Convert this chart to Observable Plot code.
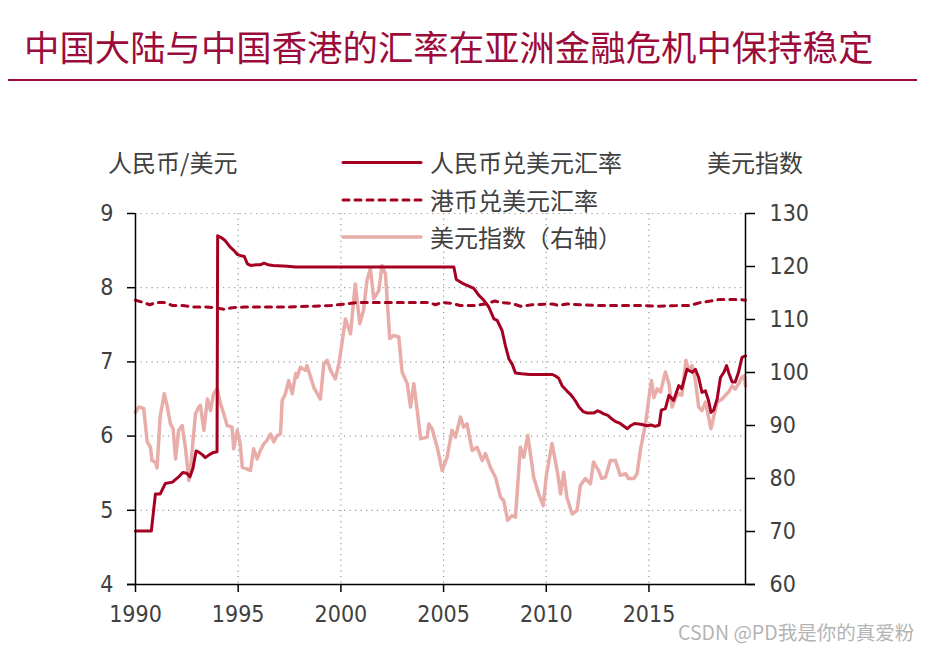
<!DOCTYPE html>
<html>
<head>
<meta charset="utf-8">
<script src="https://cdn.jsdelivr.net/npm/d3@7"></script>
<script src="https://cdn.jsdelivr.net/npm/@observablehq/plot@0.6"></script>
<style>
  body { margin: 0; background: #fff; }
  #wrap { position: relative; width: 930px; height: 650px; font-family: "Noto Sans CJK SC", sans-serif; color: #404040; }
  .abs { position: absolute; white-space: nowrap; line-height: 1; }
  #chart { position: absolute; left: 0; top: 100px; }
</style>
</head>
<body>
<div id="wrap">
  <div class="abs" style="left:24px;top:28px;font-size:35.4px;color:#9c0c3b;">中国大陆与中国香港的汇率在亚洲金融危机中保持稳定</div>
  <div class="abs" style="left:8px;top:79px;width:909px;height:2px;background:#9c0c3b;"></div>
  <div id="chart"></div>
  <div class="abs" style="left:108px;top:150px;font-size:24px;">人民币/美元</div>
  <div class="abs" style="left:707px;top:150px;font-size:24px;">美元指数</div>
  <svg class="abs" style="left:340px;top:150px;" width="86" height="100">
    <line x1="3" x2="81" y1="12.5" y2="12.5" stroke="#a50021" stroke-width="3" stroke-linecap="round"/>
    <line x1="3" x2="81" y1="50" y2="50" stroke="#a50021" stroke-width="3" stroke-linecap="round" stroke-dasharray="6,6"/>
    <line x1="3" x2="81" y1="87" y2="87" stroke="#e8aca9" stroke-width="3.5" stroke-linecap="round"/>
  </svg>
  <div class="abs" style="left:430px;top:150px;font-size:24px;">人民币兑美元汇率</div>
  <div class="abs" style="left:430px;top:188px;font-size:24px;">港币兑美元汇率</div>
  <div class="abs" style="left:430px;top:225px;font-size:24px;">美元指数（右轴）</div>
  <div class="abs" style="left:678px;top:622px;font-size:19.5px;color:#b4b4b4;">CSDN @PD我是你的真爱粉</div>
</div>
<script>
// 人民币兑美元汇率
const cnyYear = [1990.0,1990.77,1990.97,1991.2,1991.45,1991.8,1992.1,1992.3,1992.5,1992.65,1992.8,1992.95,1993.1,1993.25,1993.4,1993.6,1993.8,1993.97,
  1994.0,1994.15,1994.35,1994.6,1994.8,1994.95,1995.15,1995.3,1995.45,1995.6,1995.9,1996.1,1996.25,1996.45,1996.7,1997.4,1997.8,
  2005.5,2005.62,2005.98,2006.47,2006.71,2006.96,2007.2,2007.45,2007.61,2007.85,2008.01,2008.18,2008.34,2008.5,2008.8,2009.2,2009.7,
  2010.3,2010.45,2010.6,2010.77,2011.0,2011.15,2011.3,2011.45,2011.6,2011.8,2012.0,2012.3,2012.5,2012.6,2012.8,2013.0,2013.2,2013.35,
  2013.6,2013.8,2013.95,2014.1,2014.3,2014.6,2014.9,2015.1,2015.3,2015.5,2015.6,2015.8,2015.97,2016.2,2016.45,2016.6,2016.85,2017.1,
  2017.26,2017.42,2017.58,2017.75,2017.9,2018.02,2018.15,2018.32,2018.48,2018.65,2018.78,2018.9,2019.05,2019.2,2019.36,2019.53,2019.7];
const cnyRate = [4.72,4.72,5.22,5.22,5.36,5.38,5.45,5.51,5.50,5.45,5.57,5.80,5.78,5.75,5.71,5.75,5.78,5.79,
  8.70,8.68,8.64,8.55,8.50,8.45,8.43,8.42,8.32,8.30,8.31,8.31,8.33,8.31,8.30,8.29,8.28,
  8.28,8.11,8.05,7.99,7.90,7.83,7.74,7.58,7.56,7.42,7.22,7.04,6.97,6.85,6.84,6.83,6.83,
  6.83,6.81,6.78,6.68,6.61,6.57,6.52,6.46,6.39,6.33,6.31,6.31,6.34,6.33,6.30,6.28,6.23,6.20,
  6.17,6.13,6.10,6.14,6.17,6.16,6.14,6.15,6.13,6.15,6.35,6.37,6.55,6.48,6.68,6.64,6.90,6.86,
  6.90,6.79,6.59,6.61,6.48,6.32,6.35,6.50,6.79,6.86,6.95,6.84,6.73,6.73,6.86,7.06,7.08];

// 港币兑美元汇率
const hkdYear = [1990.0,1990.4,1990.7,1991.0,1991.4,1991.8,1992.3,1992.8,1993.4,1993.9,1994.3,1994.7,1995.3,1996.5,1997.5,1998.5,1999.5,
  2000.2,2000.8,2002.0,2003.5,2004.3,2004.6,2004.9,2005.4,2005.8,2006.5,2007.0,2007.5,2007.8,2008.3,2008.75,2009.3,2010.3,2010.6,
  2011.0,2011.7,2012.5,2013.5,2014.5,2015.5,2016.5,2017.0,2017.5,2018.0,2018.4,2019.0,2019.5,2019.7];
const hkdRate = [7.83,7.80,7.77,7.80,7.80,7.76,7.76,7.74,7.74,7.73,7.71,7.73,7.74,7.74,7.74,7.75,7.76,
  7.78,7.80,7.80,7.80,7.80,7.77,7.80,7.79,7.76,7.76,7.78,7.82,7.80,7.79,7.75,7.77,7.78,7.76,
  7.78,7.77,7.76,7.76,7.76,7.75,7.76,7.76,7.80,7.82,7.84,7.84,7.84,7.83];

// 美元指数（右轴）
const usdYear = [1990.0,1990.16,1990.4,1990.57,1990.73,1990.8,1990.97,1991.05,1991.2,1991.4,1991.55,1991.7,1991.83,1991.95,1992.1,1992.27,
  1992.43,1992.6,1992.7,1992.92,1993.08,1993.16,1993.33,1993.5,1993.65,1993.8,1993.98,1994.14,1994.3,1994.46,1994.7,1994.78,1994.95,
  1995.1,1995.2,1995.43,1995.6,1995.75,1995.92,1996.08,1996.24,1996.4,1996.57,1996.73,1996.9,1997.06,1997.14,1997.3,1997.46,1997.63,
  1997.8,1997.87,1998.03,1998.28,1998.35,1998.68,1998.85,1999.0,1999.17,1999.33,1999.5,1999.73,1999.9,2000.06,2000.22,2000.47,2000.7,
  2000.92,2001.1,2001.27,2001.44,2001.6,2001.85,2002.0,2002.17,2002.38,2002.58,2002.82,2002.98,2003.23,2003.39,2003.55,2003.72,2003.88,
  2004.2,2004.28,2004.44,2004.69,2004.93,2005.17,2005.41,2005.58,2005.82,2005.98,2006.14,2006.39,2006.63,2006.88,2007.04,2007.28,
  2007.53,2007.77,2007.93,2008.12,2008.33,2008.5,2008.74,2008.9,2009.1,2009.39,2009.63,2009.85,2010.0,2010.28,2010.53,2010.7,2010.85,
  2011.0,2011.26,2011.5,2011.66,2011.9,2012.15,2012.3,2012.55,2012.7,2012.88,2013.12,2013.37,2013.6,2013.86,2014.0,2014.26,2014.42,
  2014.58,2014.83,2015.0,2015.12,2015.24,2015.4,2015.56,2015.8,2015.97,2016.13,2016.3,2016.45,2016.6,2016.8,2016.94,2017.1,2017.26,
  2017.42,2017.58,2017.75,2017.9,2018.02,2018.15,2018.32,2018.56,2018.72,2018.88,2019.05,2019.2,2019.37,2019.53,2019.65,2019.7];
const usdIndex = [92.5,93.5,93.2,86.9,85.9,83.4,83.1,82.0,91.6,96.0,93.5,90.3,89.4,83.7,89.1,90.0,
  85.9,79.6,82.8,92.2,93.5,93.8,89.1,95.0,92.8,96.0,96.9,94.1,92.2,90.0,89.7,85.6,89.1,
  86.5,82.1,81.8,81.5,85.6,83.7,85.3,86.5,87.2,88.4,86.9,88.1,88.4,94.7,96.0,98.5,96.0,
  99.8,99.1,101.0,100.4,101.3,97.2,96.0,95.0,101.6,102.3,100.4,98.8,101.6,105.7,110.1,107.3,116.7,
  109.2,111.7,117.4,119.6,113.9,115.5,120.2,118.6,106.4,107.0,106.7,100.1,97.9,93.5,97.9,92.8,87.5,
  87.8,90.3,89.4,85.9,81.5,84.0,89.1,87.8,91.6,89.7,90.3,85.3,85.9,83.4,84.7,82.1,
  80.2,76.5,75.8,72.1,73.0,72.7,85.9,84.0,88.1,80.2,77.1,74.9,80.5,86.6,81.5,77.1,81.2,
  76.5,73.3,74.0,78.7,80.0,79.0,83.1,81.5,80.0,80.2,83.4,83.4,80.6,80.9,80.0,80.0,80.9,
  85.3,90.3,95.3,98.5,95.3,96.9,96.3,100.1,97.9,93.5,95.3,96.0,95.7,102.3,100.4,101.3,98.5,
  93.5,92.8,94.4,91.6,89.4,91.6,94.4,95.0,95.7,96.3,97.5,96.9,97.9,99.1,99.4,97.5];

const xTicks = [1990, 1995, 2000, 2005, 2010, 2015];
const leftTicks = [4, 5, 6, 7, 8, 9];
const rightTicks = [60, 70, 80, 90, 100, 110, 120, 130];

const xMin = 1990, xMax = 2019.7;
const toLeft = v => 4 + (v - 60) / 14;      // right axis 60–130 onto left axis 4–9
const fromLeft = d => Math.round(60 + (d - 4) * 14);

const cny = cnyYear.map((y, i) => ({year: y, value: cnyRate[i]}));
const hkd = hkdYear.map((y, i) => ({year: y, value: hkdRate[i]}));
const usd = usdYear.map((y, i) => ({year: y, value: toLeft(usdIndex[i])}));

const pxPerYear = 610 / (xMax - xMin);

const chart = Plot.plot({
  width: 930,
  height: 550,
  marginLeft: 135,
  marginRight: 185,
  marginTop: 113,
  marginBottom: 66,
  style: {fontFamily: "'DejaVu Sans Condensed', 'DejaVu Sans'", fontStretch: "condensed", fontSize: "23px", background: "transparent", overflow: "visible"},
  x: {type: "linear", domain: [xMin, xMax]},
  y: {type: "linear", domain: [4, 9]},
  marks: [
    Plot.ruleY(leftTicks.slice(1), {stroke: "#9a9a9a", strokeWidth: 1.2, strokeDasharray: "1.2,4.3"}),
    Plot.ruleX(xTicks.slice(1), {stroke: "#9a9a9a", strokeWidth: 1.2, strokeDasharray: "1.2,4.3"}),
    Plot.line(usd, {x: "year", y: "value", stroke: "#e8aca9", strokeWidth: 3.5}),
    Plot.line(hkd, {x: "year", y: "value", stroke: "#a50021", strokeWidth: 3, strokeDasharray: "6,6"}),
    Plot.line(cny, {x: "year", y: "value", stroke: "#a50021", strokeWidth: 3}),
    Plot.ruleX([xMin], {y1: 4, y2: 9, stroke: "#000", strokeWidth: 1.5}),
    Plot.ruleX([xMax], {y1: 4, y2: 9, stroke: "#000", strokeWidth: 1.5}),
    Plot.ruleY([4], {x1: xMin - 8 / pxPerYear, x2: xMax + 10 / pxPerYear, stroke: "#000", strokeWidth: 1.5}),
    Plot.axisY({anchor: "left", ticks: leftTicks, tickSize: 8, tickPadding: 14, tickFormat: d => String(d), label: null, stroke: "#000", strokeWidth: 1.5, color: "#404040"}),
    Plot.axisY({anchor: "right", ticks: rightTicks.map(toLeft), tickSize: 9, tickPadding: 15, tickFormat: fromLeft, label: null, stroke: "#000", strokeWidth: 1.5, color: "#404040"}),
    Plot.axisX({anchor: "bottom", ticks: xTicks, tickSize: 8, tickPadding: 13, tickFormat: d => String(d), label: null, stroke: "#000", strokeWidth: 1.5, color: "#404040"})
  ]
});
document.getElementById("chart").appendChild(chart);
</script>
</body>
</html>
